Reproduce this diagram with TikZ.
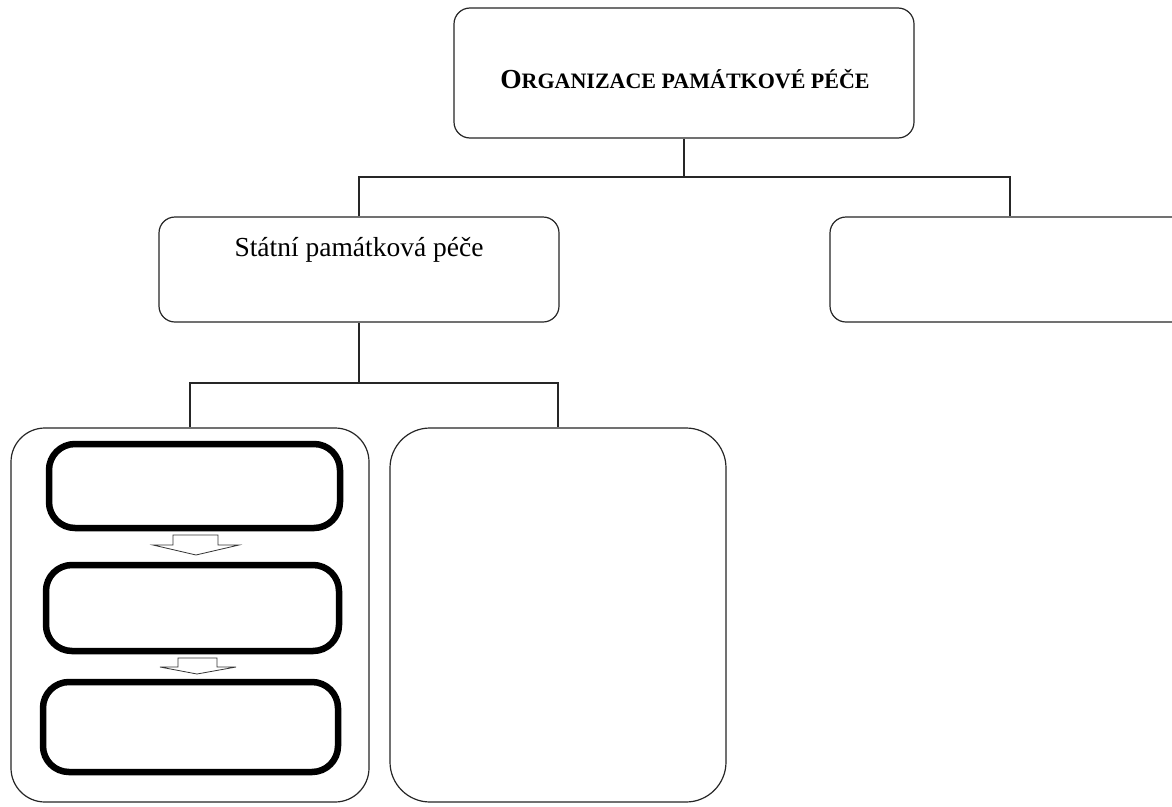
\documentclass[tikz,border=0pt]{standalone}
\usepackage{fontspec}
\setmainfont{Liberation Serif}
\begin{document}
\begin{tikzpicture}[x=1pt,y=-1pt,
  box/.style={draw=black!85, line width=1.2pt, rounded corners=#1, inner sep=0pt, fill=white},
  box/.default=16pt,
  thickbox/.style={draw=black, line width=6.5pt, rounded corners=26pt, inner sep=0pt, fill=white},
  conn/.style={draw=black!85, line width=1.2pt},
  blockarrow/.style={draw=black!80, line width=0.8pt, fill=white},
  lbl/.style={inner sep=0pt, anchor=base, text=black}]
\useasboundingbox (0,0) rectangle (1172,806);
\clip (0,0) rectangle (1172,806);
\fill[white] (0,0) rectangle (1172,806);
% level 0
\node[box, minimum width=460pt, minimum height=130pt] (top) at (684,73) {};
\node[lbl, font=\fontsize{27.5}{32}\selectfont\bfseries] (toptext) at (685,88)
  {O{\fontsize{22}{26}\selectfont RGANIZACE PAMÁTKOVÉ PÉČE}};
% level 1
\node[box, minimum width=400pt, minimum height=105pt] (left) at (359,269.5) {};
\node[lbl, font=\fontsize{27.5}{32}\selectfont] (lefttext) at (359,256) {Státní památková péče};
\node[box, minimum width=360pt, minimum height=105pt] (right) at (1010,269.5) {};
\coordinate (b1) at (684,177);
\draw[conn] (top.south) -- (b1);
\draw[conn] (left.north) |- (b1) -| (right.north);
% level 2
\node[box=34pt, minimum width=358pt, minimum height=374pt] (bl) at (190,615) {};
\node[box=40pt, minimum width=336pt, minimum height=374pt] (bm) at (558,615) {};
\coordinate (b2) at (359,383);
\draw[conn] (left.south) -- (b2);
\draw[conn] (bl.north) |- (b2) -| (bm.north);
% inner boxes
\node[thickbox, minimum width=291pt, minimum height=84pt] (i1) at (194.5,486) {};
\node[thickbox, minimum width=293pt, minimum height=86pt] (i2) at (192.5,608) {};
\node[thickbox, minimum width=295pt, minimum height=90pt] (i3) at (190.5,727) {};
% block arrows
\draw[blockarrow] (173,535) -- (218,535) -- (218,545) -- (239,545) -- (196,555) -- (153,545) -- (173,545) -- cycle;
\draw[blockarrow] (178,658) -- (217,658) -- (217,667) -- (236,667) -- (197,674) -- (160,667) -- (178,667) -- cycle;
\end{tikzpicture}
\end{document}
